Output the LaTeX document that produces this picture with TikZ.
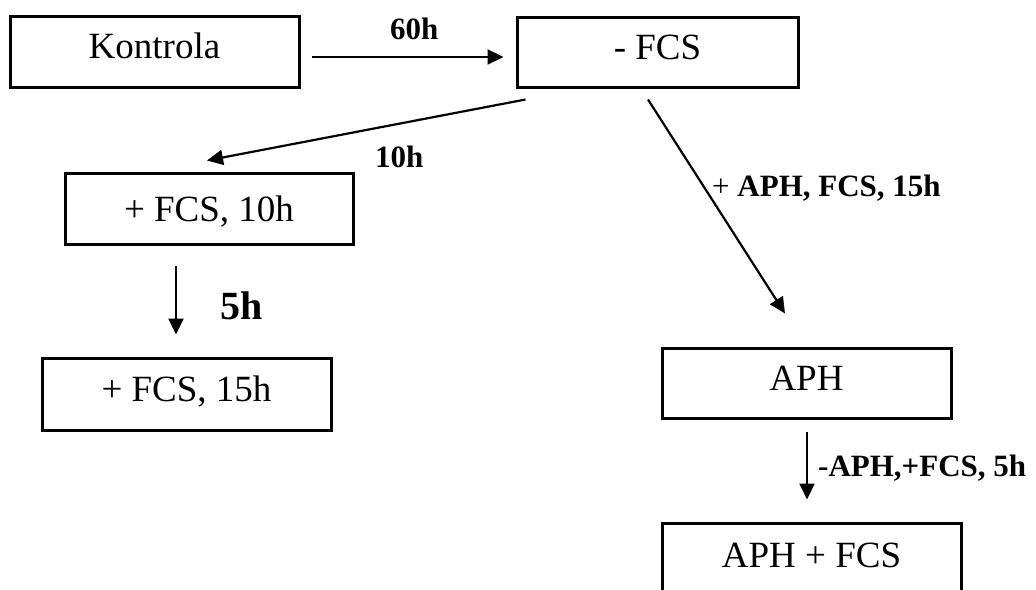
\documentclass[tikz,border=0pt]{standalone}
\usepackage{fontspec}
\setmainfont{Liberation Serif}
\usetikzlibrary{arrows.meta}
\begin{document}
\begin{tikzpicture}[x=1pt,y=-1pt,
  box/.style={draw, line width=3pt, inner sep=0pt,
    font=\fontsize{37}{44}\selectfont, text height=26pt, text depth=12pt},
  lbl/.style={inner sep=0pt, anchor=base west, font=\fontsize{31}{37}\selectfont\bfseries},
  arr/.style={line width=2.2pt, -{Triangle[length=16pt,width=15pt]}}]
\useasboundingbox (0,0) rectangle (1036,589);
\clip (0,0) rectangle (1036,589);
% boxes
\node[box, minimum width=289pt, minimum height=71pt] (kon) at (154.5,51.5) {Kontrola};
\node[box, minimum width=281pt, minimum height=70pt] (fcs) at (657.5,52) {- FCS};
\node[box, minimum width=288pt, minimum height=71pt, text depth=0pt] (fcsten) at (209,208.5) {+ FCS, 10h};
\node[box, minimum width=289pt, minimum height=72pt] (fcsfif) at (186.5,394) {+ FCS, 15h};
\node[box, minimum width=289pt, minimum height=70pt] (aph) at (806.5,383) {APH};
\node[box, minimum width=299pt, minimum height=72pt, text depth=10pt] (aphfcs) at (811.5,559) {APH + FCS};
% connectors
\draw[arr, shorten <=11pt, shorten >=12pt] ([yshift=-5.5pt]kon.east) -- ([yshift=-5pt]fcs.west);
\draw[arr] ([xshift=10pt,yshift=-11pt]fcs.south west) -- ([xshift=-2pt,yshift=11pt]fcsten.north);
\draw[arr] ([xshift=-9.5pt,yshift=-11pt]fcs.south) -- ([xshift=-21.5pt,yshift=33pt]aph.north);
\draw[arr] ([xshift=-33pt,yshift=-20pt]fcsten.south) -- ([xshift=-10.5pt,yshift=22pt]fcsfif.north);
\draw[arr] ([xshift=0.5pt,yshift=-12pt]aph.south) -- ([xshift=-4.5pt,yshift=22pt]aphfcs.north);
% labels
\node[lbl] (l60) at (390,39) {60h};
\node[lbl] (l10) at (375,167) {10h};
\node[lbl, font=\fontsize{40}{48}\selectfont\bfseries] (l5) at (220,319) {5h};
\node[lbl] (laph) at (712,196) {{\mdseries +} APH, FCS, 15h};
\node[lbl] (lminus) at (818,476) {-APH,+FCS, 5h};
\end{tikzpicture}
\end{document}
